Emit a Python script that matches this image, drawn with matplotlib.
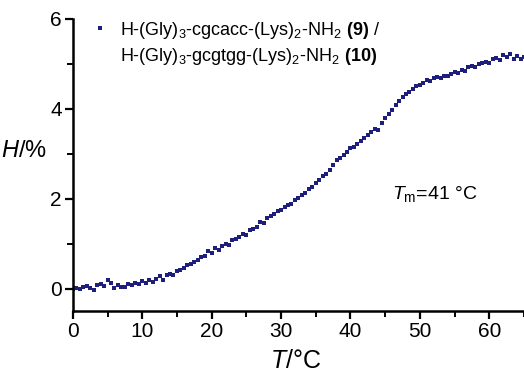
import numpy as np
import matplotlib
matplotlib.use("Agg")
import matplotlib.pyplot as plt
from matplotlib.ticker import MultipleLocator

plt.rcParams['font.family'] = ['Liberation Sans', 'DejaVu Sans']
plt.rcParams['mathtext.fontset'] = 'custom'
plt.rcParams['mathtext.rm'] = 'Liberation Sans'
plt.rcParams['mathtext.it'] = 'Liberation Sans:italic'
plt.rcParams['mathtext.bf'] = 'Liberation Sans:bold'

# %%
temp = np.arange(0, 65.01, 0.5)
helix = [0.00, 0.01, -0.01, 0.03, 0.05, 0.02, -0.03, 0.08, 0.10, 0.05,
         0.18, 0.12, 0.02, 0.08, 0.04, 0.03, 0.10, 0.07, 0.13, 0.10,
         0.16, 0.12, 0.19, 0.14, 0.22, 0.27, 0.20, 0.30, 0.33, 0.30,
         0.38, 0.42, 0.45, 0.52, 0.55, 0.60, 0.63, 0.70, 0.72, 0.83,
         0.78, 0.90, 0.86, 0.95, 1.00, 0.98, 1.07, 1.10, 1.15, 1.22,
         1.20, 1.30, 1.33, 1.38, 1.47, 1.45, 1.58, 1.62, 1.66, 1.72,
         1.75, 1.82, 1.86, 1.88, 1.98, 2.02, 2.08, 2.13, 2.22, 2.25,
         2.35, 2.42, 2.50, 2.55, 2.63, 2.75, 2.85, 2.90, 2.98, 3.05,
         3.12, 3.15, 3.22, 3.28, 3.35, 3.42, 3.48, 3.55, 3.52, 3.68,
         3.80, 3.88, 3.98, 4.08, 4.18, 4.27, 4.32, 4.38, 4.45, 4.50,
         4.52, 4.57, 4.64, 4.62, 4.68, 4.70, 4.69, 4.74, 4.72, 4.78,
         4.82, 4.80, 4.86, 4.84, 4.92, 4.95, 4.93, 5.00, 5.02, 5.05,
         5.03, 5.10, 5.14, 5.08, 5.20, 5.16, 5.22, 5.12, 5.18, 5.12,
         5.16]
x_ticks = [0, 10, 20, 30, 40, 50, 60]
y_ticks = [0, 2, 4, 6]
label1 = r'H-(Gly)$_3$-cgcacc-(Lys)$_2$-NH$_2$ $\mathbf{(9)}$ /'
label2 = r'H-(Gly)$_3$-gcgtgg-(Lys)$_2$-NH$_2$ $\mathbf{(10)}$'

# %%
fig = plt.figure(figsize=(5.24, 3.72), dpi=100)
ax = fig.add_axes([0.139, 0.164, 0.861, 0.785])
ax.plot(temp, helix, 's', color='#1e1e7c', markersize=2.8, markeredgewidth=0, label=label1)

ax.set_xlim(0, 65)
ax.set_ylim(-0.5, 6)
ax.set_xticks(x_ticks)
ax.set_yticks(y_ticks)
ax.xaxis.set_minor_locator(MultipleLocator(5))
ax.yaxis.set_minor_locator(MultipleLocator(1))
for s in ['top', 'right']:
    ax.spines[s].set_visible(False)
for s in ['left', 'bottom']:
    ax.spines[s].set_linewidth(1.8)
ax.tick_params(which='major', direction='out', length=6, width=1.6, labelsize=15, pad=2)
ax.tick_params(which='minor', direction='out', length=4, width=1.4)

ax.set_xlabel(r'$T$/°C', fontsize=18)
ax.xaxis.set_label_coords(0.493, -0.13)
ax.set_ylabel(r'$H$/%', fontsize=17, rotation=0)
ax.yaxis.set_label_coords(-0.108, 0.51)

ax.legend(loc='center left', bbox_to_anchor=(0.045, 0.962), frameon=False, fontsize=13,
          borderpad=0, borderaxespad=0, handletextpad=0.7, handlelength=0.8, markerscale=1.1)
ax.text(0.104, 0.87, label2, transform=ax.transAxes, fontsize=13, va='center')
ax.text(46, 2.1, r'$T_\mathrm{m}$=41 °C', fontsize=14, va='center')

fig.savefig('out.png', dpi=100)
